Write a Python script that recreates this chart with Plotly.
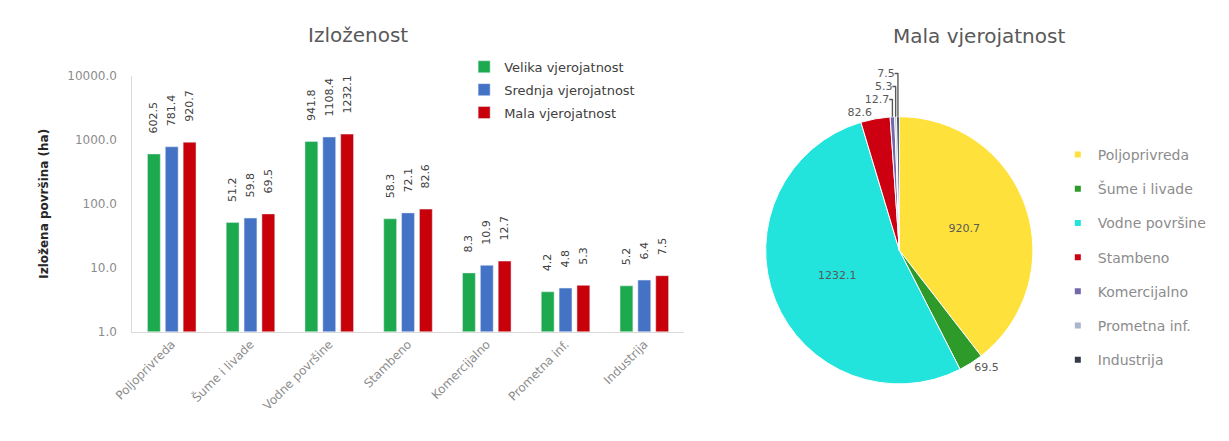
import plotly.graph_objects as go

categories = [
    "Poljoprivreda",
    "Šume i livade",
    "Vodne površine",
    "Stambeno",
    "Komercijalno",
    "Prometna inf.",
    "Industrija",
]
velika = [602.5, 51.2, 941.8, 58.3, 8.3, 4.2, 5.2]
srednja = [781.4, 59.8, 1108.4, 72.1, 10.9, 4.8, 6.4]
mala = [920.7, 69.5, 1232.1, 82.6, 12.7, 5.3, 7.5]

series_names = ["Velika vjerojatnost", "Srednja vjerojatnost", "Mala vjerojatnost"]
bar_colors = ["#1DAA4E", "#4472C4", "#C8000A"]

y_ticks = [1, 10, 100, 1000, 10000]

pie_colors = ["#FFE13C", "#2E9A2A", "#22E4DC", "#CC0010", "#7468AC", "#A9B6CC", "#343B48"]
pie_textpos = ["inside", "outside", "inside", "outside", "outside", "outside", "outside"]

FONT = "DejaVu Sans"
GRAY = "#8C8C8C"
DARK = "#404040"
W, H = 1229, 441


# page body keeps its default 8px margin, so place things in screen pixels
def px(x):
    return (x - 8) / W


def py(y):
    return 1 - (y - 8) / H


fig = go.Figure()

for name, vals, color in zip(series_names, [velika, srednja, mala], bar_colors):
    fig.add_trace(
        go.Bar(
            x=categories,
            y=vals,
            name=name,
            legendgroup=name,
            marker={"color": color},
            # leading no-break spaces lift the rotated label off the bar
            texttemplate="\u00a0" * 5 + "%{y:.1f}",
            textposition="outside",
            textangle=-90,
            constraintext="none",
            textfont={"size": 11, "color": DARK, "family": FONT},
            cliponaxis=False,
            legend="legend",
        )
    )

fig.add_trace(
    go.Pie(
        labels=categories,
        values=mala,
        sort=False,
        direction="clockwise",
        rotation=0,
        marker={"colors": pie_colors, "line": {"color": "#FFFFFF", "width": 1}},
        texttemplate="%{value:.1f}",
        textposition=pie_textpos,
        textfont={"size": 11, "color": "#595959", "family": FONT},
        insidetextfont={"size": 11, "color": "#595959", "family": FONT},
        domain={"x": [px(756), px(1032)], "y": [py(389), py(113)]},
        showlegend=False,
    )
)

# legend entries for the pie slices
for name, color in zip(categories, pie_colors):
    fig.add_trace(
        go.Scatter(
            x=[None],
            y=[None],
            mode="markers",
            name=name,
            legendgroup="pie_" + name,
            marker={"symbol": "square", "size": 6, "color": color},
            legend="legend2",
        )
    )

fig.update_layout(
    width=W,
    height=H,
    margin={"l": 0, "r": 0, "t": 0, "b": 0},
    paper_bgcolor="#FFFFFF",
    plot_bgcolor="#FFFFFF",
    font={"family": FONT, "color": GRAY},
    barmode="group",
    bargap=0.32,
    bargroupgap=0.28,
    xaxis={
        "domain": [px(115), px(675)],
        "showline": True,
        "linecolor": "#D9D9D9",
        "tickangle": -45,
        "tickfont": {"size": 12, "color": GRAY},
        "ticks": "",
    },
    yaxis={
        "type": "log",
        "domain": [py(335), py(71)],
        "range": [0, 4],
        "tickvals": y_ticks,
        "tickformat": ".1f",
        "showgrid": False,
        "showline": True,
        "linecolor": "#D9D9D9",
        "zeroline": False,
        "ticklabelstandoff": 12,
        "tickfont": {"size": 12, "color": GRAY},
        "title": {
            "text": "<b>Izložena površina (ha)</b>",
            "font": {"size": 12, "color": "#262626"},
            "standoff": 16,
        },
    },
    legend={
        "x": px(452),
        "y": py(46),
        "xanchor": "left",
        "yanchor": "top",
        "font": {"size": 13, "color": DARK},
        "itemwidth": 30,
        "tracegroupgap": 3,
        "bgcolor": "rgba(0,0,0,0)",
    },
    legend2={
        "x": px(1055),
        "y": py(136),
        "xanchor": "left",
        "yanchor": "top",
        "font": {"size": 14, "color": GRAY},
        "itemwidth": 30,
        "tracegroupgap": 13,
        "bgcolor": "rgba(0,0,0,0)",
    },
    annotations=[
        {
            "text": "Izloženost",
            "x": px(344),
            "y": py(29),
            "xanchor": "center",
            "yanchor": "middle",
            "xref": "paper",
            "yref": "paper",
            "showarrow": False,
            "font": {"size": 20, "color": "#595959"},
        },
        {
            "text": "Mala vjerojatnost",
            "x": px(975),
            "y": py(30),
            "xanchor": "center",
            "yanchor": "middle",
            "xref": "paper",
            "yref": "paper",
            "showarrow": False,
            "font": {"size": 20, "color": "#595959"},
        },
    ],
)

fig.write_html("out.html")
